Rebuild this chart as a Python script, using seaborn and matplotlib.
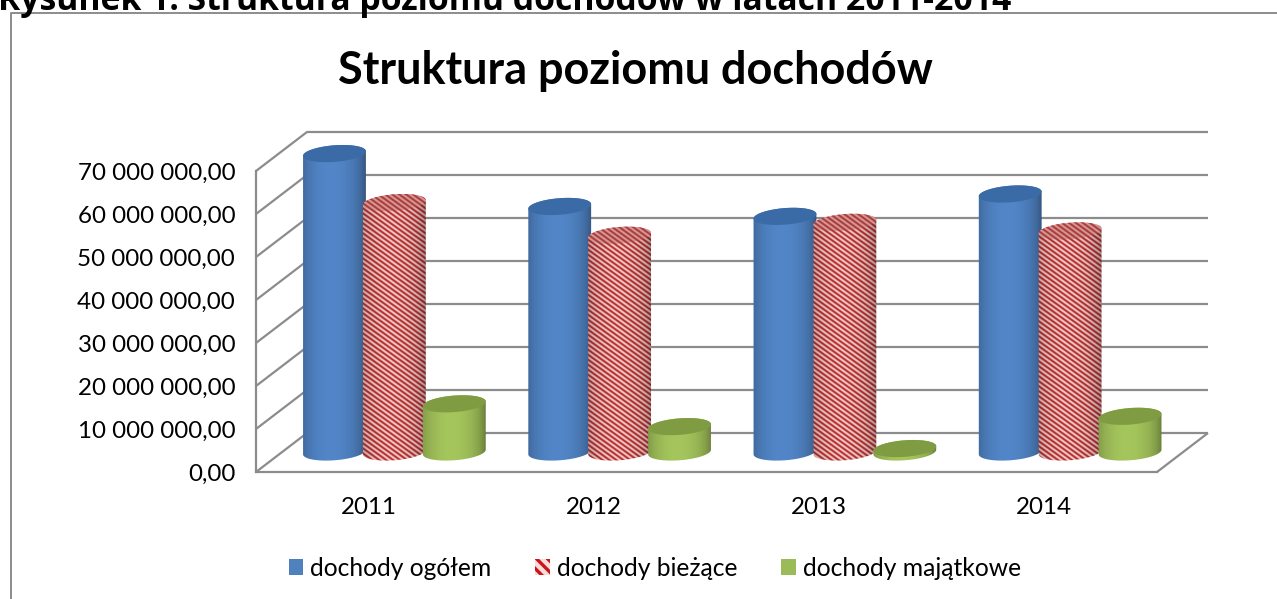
import numpy as np
import pandas as pd
import seaborn as sns
import matplotlib
matplotlib.use('Agg')
import matplotlib.pyplot as plt
from matplotlib.lines import Line2D
from matplotlib.patches import Patch
from matplotlib.path import Path
from matplotlib.transforms import Affine2D, IdentityTransform

# --- data ---
years = ['2011', '2012', '2013', '2014']
series = ['dochody ogółem', 'dochody bieżące', 'dochody majątkowe']
ogolem = [69400000, 57100000, 54800000, 60000000]
biezace = [58000000, 50400000, 53400000, 51400000]
majatkowe = [11200000, 5900000, 800000, 8300000]
y_ticks = [0, 10000000, 20000000, 30000000, 40000000, 50000000, 60000000, 70000000]

W, H = 1277, 599
DEPTH = (51, 39)       # back wall offset, px
BAR_SHIFT = (25.75, 20)  # cylinders stand in the middle of the floor
RADIUS = 31.5
ELL_H = 16.5
TILT = np.radians(4.5)
GREY = '#8c8c8c'
FONT = 'Lato'

sns.set_theme(style='white')
plt.rcParams['font.family'] = [FONT, 'DejaVu Sans']
plt.rcParams['hatch.linewidth'] = 2.4

df = pd.DataFrame({
    'rok': years * 3,
    'seria': np.repeat(series, 4),
    'wartosc': ogolem + biezace + majatkowe,
})

fig = plt.figure(figsize=(W / 100, H / 100), dpi=100, facecolor='white')
ax = fig.add_axes([256 / W, (H - 472) / H, 901 / W, 301 / H])
ax.patch.set_alpha(0)

colors = ['#4f81bd', '#c0504d', '#9bbb59']
sns.barplot(data=df, x='rok', y='wartosc', hue='seria', hue_order=series, order=years,
            palette=colors, width=0.798, gap=0, saturation=1, legend=False, ax=ax)
ax.set_xlim(-0.5, 3.5)
ax.set_ylim(0, 70000000)
ax.autoscale(False)
ax.set_xlabel('')
ax.set_ylabel('')
ax.set_yticks(y_ticks)
ax.set_yticklabels([f'{v:,.2f}'.replace(',', ' ').replace('.', ',') for v in y_ticks])
ax.tick_params(axis='both', labelsize=17.4, colors='#000000', length=0)
ax.tick_params(axis='y', pad=15)
ax.tick_params(axis='x', pad=18)
ax.grid(False)
for side in ['top', 'right']:
    ax.spines[side].set_visible(False)
for side in ['left', 'bottom']:
    ax.spines[side].set_color(GREY)
    ax.spines[side].set_linewidth(1.6)


# --- walls and gridlines ---
def px_line(xs, ys, lw=1.6):
    ax.add_line(Line2D(xs, ys, color=GREY, lw=lw, transform=IdentityTransform(),
                       clip_on=False, zorder=1, solid_capstyle='butt'))


x_left = ax.transData.transform((-0.5, 0))[0]
x_right = ax.transData.transform((3.5, 0))[0]
for v in y_ticks:
    yp = ax.transData.transform((0, v))[1]
    px_line([x_left, x_left + DEPTH[0], x_right + DEPTH[0]], [yp, yp + DEPTH[1], yp + DEPTH[1]])
y_base = ax.transData.transform((0, 0))[1]
px_line([x_right, x_right + DEPTH[0]], [y_base, y_base + DEPTH[1]])


# --- cylinders built from seaborn's bars ---
def ellipse_path(cx, cy):
    t = np.linspace(0, 2 * np.pi, 120)
    x = RADIUS * np.cos(t)
    y = ELL_H / 2 * np.sin(t)
    return Path(np.c_[cx + x * np.cos(TILT) - y * np.sin(TILT),
                      cy + x * np.sin(TILT) + y * np.cos(TILT)])


def body_path(cx, y0, y1):
    t = np.linspace(0, np.pi, 60)
    x = RADIUS * np.cos(t)
    y = ELL_H / 2 * np.sin(t)
    ex = x * np.cos(TILT) - y * np.sin(TILT)
    ey = x * np.sin(TILT) + y * np.cos(TILT)
    # upper half left to right on top, lower half right to left on the floor
    top = np.c_[cx + ex[::-1], y1 + ey[::-1]]
    bottom = np.c_[cx - ex[::-1], y0 - ey[::-1]]
    return Path(np.r_[top, bottom, top[:1]])


def shade_array(n):
    # darker at the sides of the cylinder, lightest a bit left of the middle
    u = np.linspace(-1, 1, n)
    return 0.6 + 0.4 * np.clip(1 - ((u + 0.08) / 1.02) ** 2, 0, 1) ** 0.6


def stripes(nx, ny, period):
    xx, yy = np.meshgrid(np.arange(nx), np.arange(ny))
    phase = ((yy - 0.72 * xx) % period) / period
    return (0.5 + 0.5 * np.cos(2 * np.pi * phase))[..., None]


def rgb(hex_color):
    return np.array(matplotlib.colors.to_rgb(hex_color))


def body_image(kind, nx, ny):
    s = shade_array(nx)[None, :, None]
    if kind == 1:
        mix = stripes(nx, ny, 5.0)
        return np.clip((rgb('#b52a2c') * mix + rgb('#f6d0cc') * (1 - mix)) * (s * 0.85 + 0.15), 0, 1)
    base = {0: '#5286c8', 2: '#a5c65c'}[kind]
    return np.clip(np.ones((ny, nx, 3)) * rgb(base) * s, 0, 1)


def top_image(kind, nx, ny):
    if kind == 1:
        mix = stripes(nx, ny, 5.0)
        return np.clip(rgb('#a5393a') * mix + rgb('#dc9c98') * (1 - mix), 0, 1)
    base = {0: '#3a6ba6', 2: '#7f9c42'}[kind]
    return np.ones((ny, nx, 3)) * rgb(base)


def put_image(arr, x0, x1, y0, y1, clip, z):
    im = ax.imshow(arr, extent=(x0, x1, y0, y1), origin='upper', aspect='auto',
                   interpolation='nearest', transform=IdentityTransform(), zorder=z)
    im.set_clip_path(clip, IdentityTransform())
    im.set_clip_box(fig.bbox)


shift = Affine2D().translate(*BAR_SHIFT)
z = 5
for cat in range(len(years)):
    for kind, container in enumerate(ax.containers):
        bar = container.patches[cat]
        bar.set_transform(ax.transData + shift)
        bar.set_linewidth(0)
        x_mid = bar.get_x() + bar.get_width() / 2
        cx, y1 = ax.transData.transform((x_mid, bar.get_height())) + BAR_SHIFT
        y0 = ax.transData.transform((x_mid, 0))[1] + BAR_SHIFT[1]
        x0 = int(np.floor(cx - RADIUS - 2))
        x1 = int(np.ceil(cx + RADIUS + 2))
        yb = int(np.floor(y0 - ELL_H))
        yt = int(np.ceil(y1 + ELL_H))
        body = body_path(cx, y0, y1)
        bar.set_clip_path(body, IdentityTransform())
        put_image(body_image(kind, x1 - x0, yt - yb), x0, x1, yb, yt, body, z)
        put_image(top_image(kind, x1 - x0, yt - yb), x0, x1, yb, yt, ellipse_path(cx, y1), z + 1)
        z += 2

# --- legend ---
handles = [Patch(facecolor=colors[0], edgecolor='none'),
           Patch(facecolor='#f8dcd8', edgecolor='#c8141c', hatch='\\\\\\', linewidth=0),
           Patch(facecolor=colors[2], edgecolor='none')]
fig.legend(handles, series, loc='center', bbox_to_anchor=(655 / W, (H - 568) / H), ncol=3,
           frameon=False, fontsize=17.7, handlelength=0.58, handleheight=0.6,
           handletextpad=0.3, columnspacing=1.78, labelcolor='#000000')

# --- titles and chart frame ---
fig.text(635 / W, (H - 71) / H, 'Struktura poziomu dochodów', ha='center', va='center',
         fontsize=32.4, fontweight='bold', color='#000000')
fig.text(-2 / W, (H - 10.5) / H, 'Rysunek 1. Struktura poziomu dochodów w latach 2011-2014',
         ha='left', va='baseline', fontsize=24.3, fontweight='bold', color='#000000',
         family=['Open Sans', 'DejaVu Sans'])
fig.add_artist(Line2D([11 / W, 11 / W, 1], [0, (H - 13) / H, (H - 13) / H], color=GREY, lw=1.4))

plt.savefig('out.png', dpi=100)
plt.close()
